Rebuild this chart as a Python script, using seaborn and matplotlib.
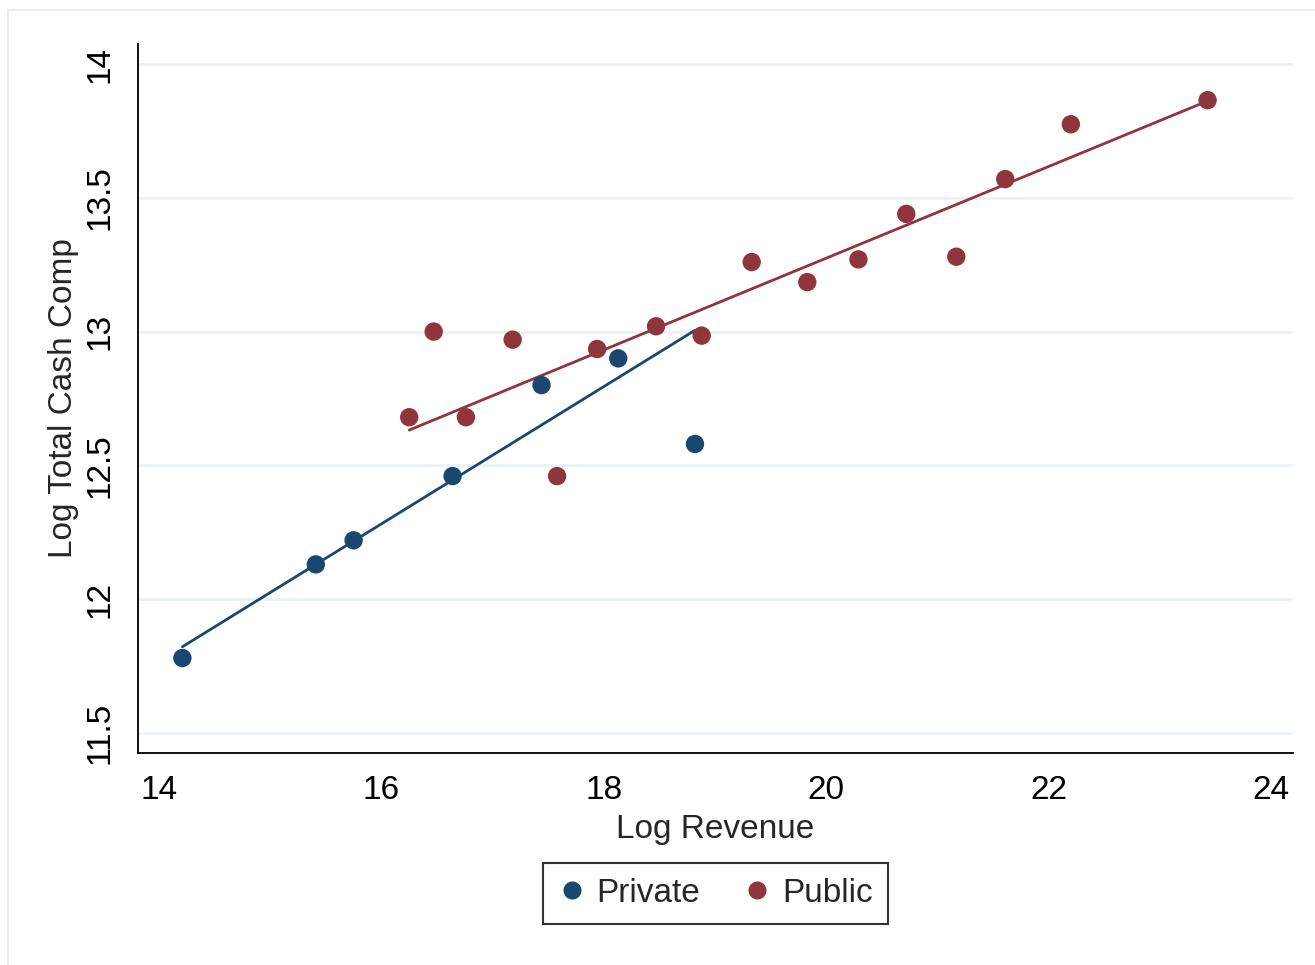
import pandas as pd
import matplotlib.pyplot as plt
import seaborn as sns
from matplotlib.patches import Rectangle

# 값은 그림에서 읽은 추정치 (binscatter 형태: 점 = 구간 평균)
private_rev = [14.21, 15.41, 15.75, 16.64, 17.44, 18.13, 18.82]
private_comp = [11.78, 12.13, 12.22, 12.46, 12.80, 12.90, 12.58]

public_rev = [16.25, 16.47, 16.76, 17.18, 17.58, 17.94, 18.47, 18.88,
              19.33, 19.83, 20.29, 20.72, 21.17, 21.61, 22.20, 23.43]
public_comp = [12.68, 13.00, 12.68, 12.97, 12.46, 12.935, 13.02, 12.985,
               13.26, 13.185, 13.27, 13.44, 13.28, 13.57, 13.775, 13.865]

# 적합선 양 끝점 (원자료 기반 회귀선이라 점에서 다시 계산하지 않음)
private_fit_rev = [14.21, 18.82]
private_fit_comp = [11.822, 13.005]
public_fit_rev = [16.25, 23.43]
public_fit_comp = [12.632, 13.862]

groups = ["Private", "Public"]
colors = {"Private": "#1a476f", "Public": "#90353b"}

df = pd.concat([
    pd.DataFrame({"rev": private_rev, "comp": private_comp, "type": "Private"}),
    pd.DataFrame({"rev": public_rev, "comp": public_comp, "type": "Public"}),
], ignore_index=True)
df_fit = pd.concat([
    pd.DataFrame({"rev": private_fit_rev, "comp": private_fit_comp, "type": "Private"}),
    pd.DataFrame({"rev": public_fit_rev, "comp": public_fit_comp, "type": "Public"}),
], ignore_index=True)

sns.set_style("white")
plt.rcParams['font.family'] = ['Liberation Sans', 'DejaVu Sans']

fig = plt.figure(figsize=(13.15, 9.65), dpi=100)
ax = fig.add_axes([138 / 1315, 1 - 753 / 965, (1293 - 138) / 1315, (753 - 44) / 965])

# 바깥 테두리 (Stata 스타일)
fig.patches.append(Rectangle((8 / 1315, -0.01), 1.02, 1 - 10 / 965 + 0.01,
                             transform=fig.transFigure, fill=False,
                             edgecolor="#e8eff2", linewidth=1.5, zorder=0))

sns.lineplot(data=df_fit, x="rev", y="comp", hue="type", hue_order=groups,
             palette=colors, linewidth=2.0, legend=False, zorder=2, ax=ax)

sns.scatterplot(data=df, x="rev", y="comp", hue="type", hue_order=groups,
                palette=colors, s=175, edgecolor="none", linewidth=0,
                zorder=3, legend=False, ax=ax)

ax.set_xlim(13.811, 24.198)
ax.set_ylim(11.425, 14.075)
ax.set_xticks([14, 16, 18, 20, 22, 24])
ax.set_yticks([11.5, 12, 12.5, 13, 13.5, 14])
ax.set_yticklabels(["11.5", "12", "12.5", "13", "13.5", "14"], rotation=90, va="center")

ax.yaxis.grid(True, color="#eaf2f3", linewidth=2)
ax.xaxis.grid(False)
ax.set_axisbelow(True)

for side in ["top", "right"]:
    ax.spines[side].set_visible(False)
for side in ["left", "bottom"]:
    ax.spines[side].set_color("black")
    ax.spines[side].set_linewidth(1.3)

ax.tick_params(axis="both", direction="out", length=9.5, width=1.1, color="black",
               labelsize=24, labelcolor="black")
ax.tick_params(axis="y", pad=7)
ax.tick_params(axis="x", pad=6)

ax.set_xlabel("Log Revenue", fontsize=24, labelpad=6)
ax.set_ylabel("Log Total Cash Comp", fontsize=24, labelpad=4)

handles = [plt.Line2D([], [], marker="o", linestyle="none", markersize=13,
                      markerfacecolor=colors[g], markeredgecolor="none") for g in groups]
leg = fig.legend(handles, groups, ncol=2, loc="center",
                 bbox_to_anchor=(715.5 / 1315, 1 - 893.5 / 965), fontsize=24,
                 frameon=True, fancybox=False, handletextpad=0.35, columnspacing=1.3,
                 borderpad=0.45, handlelength=0.8, borderaxespad=0)
leg.get_frame().set_edgecolor("black")
leg.get_frame().set_linewidth(1.5)

fig.savefig("out.png", dpi=100, facecolor="white")
